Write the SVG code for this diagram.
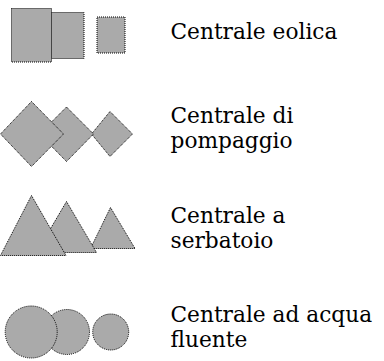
<svg xmlns="http://www.w3.org/2000/svg" width="384" height="361" viewBox="0 0 384 361">
<style>
.s{fill:#aaaaaa;stroke:#000;stroke-width:1;stroke-dasharray:1 1}
.t{font-family:"DejaVu Serif",serif;font-size:21.7px;fill:#000}
</style>
<rect width="384" height="361" fill="#fff"/>
<g id="eolica">
<rect class="s" x="97" y="17" width="28" height="36"/>
<rect class="s" x="51.5" y="12.5" width="32.5" height="46"/>
<rect class="s" x="11.5" y="8.5" width="40" height="53.5"/>
<text class="t" x="170.5" y="38.5">Centrale eolica</text>
</g>
<g id="pompaggio">
<polygon class="s" points="110,111.5 132.5,134 110,156.5 91.5,134"/>
<polygon class="s" points="66.5,107 93.5,134 66.5,161.5 39.5,134"/>
<polygon class="s" points="31.5,101.5 63.5,134 31.5,166.5 0.5,134"/>
<text class="t" x="170.5" y="123.3">Centrale di</text>
<text class="t" x="170.5" y="148.3">pompaggio</text>
</g>
<g id="serbatoio">
<polygon class="s" points="110.5,207.5 135,248.5 90.5,248.5"/>
<polygon class="s" points="66.5,201.5 96.5,252.5 36.5,252.5"/>
<polygon class="s" points="31.5,195.5 66,255.5 0.5,255.5"/>
<text class="t" x="170.5" y="222.7">Centrale a</text>
<text class="t" x="170.5" y="248">serbatoio</text>
</g>
<g id="fluente">
<circle class="s" cx="110.7" cy="332" r="18"/>
<circle class="s" cx="67" cy="332" r="22.5"/>
<circle class="s" cx="31.2" cy="332" r="26"/>
<text class="t" x="170.5" y="321.7">Centrale ad acqua</text>
<text class="t" x="170.5" y="347">fluente</text>
</g>
<g id="connectors"/>
</svg>
